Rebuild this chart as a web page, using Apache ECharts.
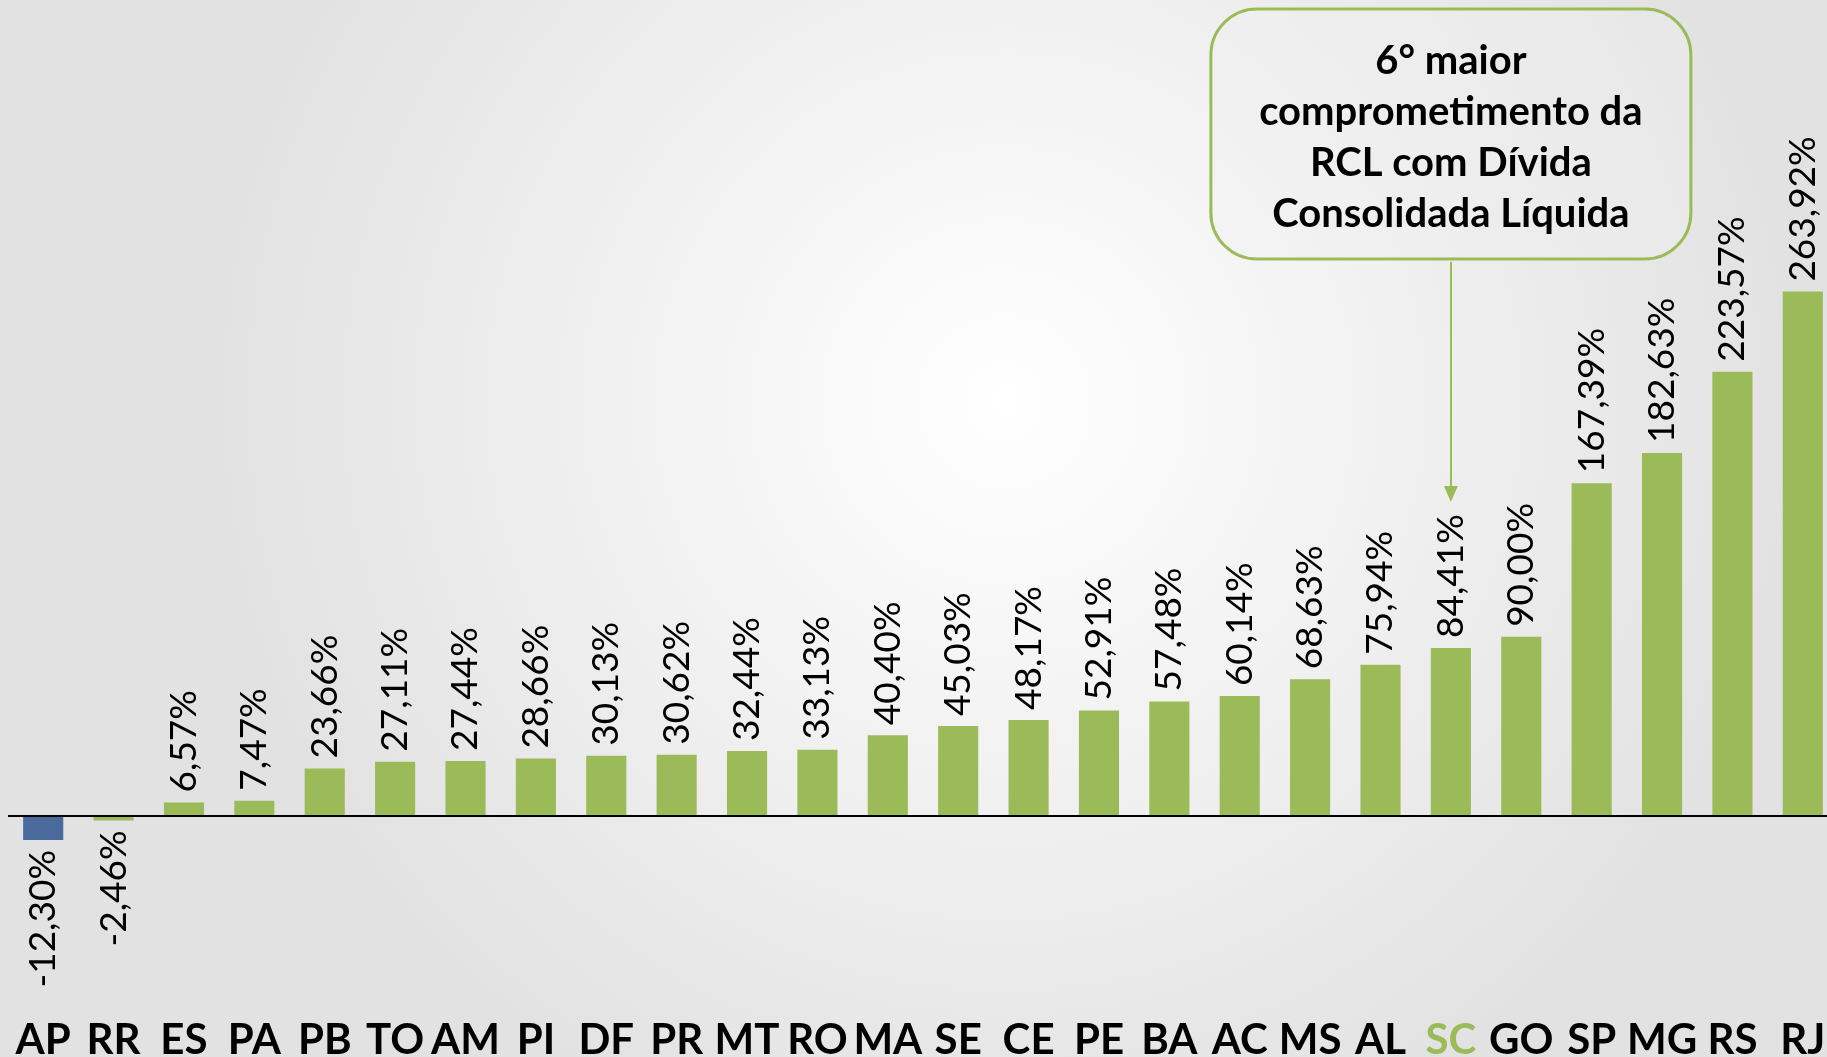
<!DOCTYPE html>
<html>
<head>
<meta charset="utf-8">
<script src="https://cdn.jsdelivr.net/npm/echarts@6/dist/echarts.min.js"></script>
<style>
  html, body { margin: 0; padding: 0; width: 100%; height: 100%; overflow: hidden; }
  #chart { width: 1827px; height: 1057px; }
</style>
</head>
<body>
<div id="chart"></div>
<script>
// estados e comprometimento da RCL (%)
const states = ['AP', 'RR', 'ES', 'PA', 'PB', 'TO', 'AM', 'PI', 'DF', 'PR', 'MT', 'RO', 'MA',
  'SE', 'CE', 'PE', 'BA', 'AC', 'MS', 'AL', 'SC', 'GO', 'SP', 'MG', 'RS', 'RJ'];
const values = [-12.30, -2.46, 6.57, 7.47, 23.66, 27.11, 27.44, 28.66, 30.13, 30.62, 32.44, 33.13, 40.40,
  45.03, 48.17, 52.91, 57.48, 60.14, 68.63, 75.94, 84.41, 90.00, 167.39, 182.63, 223.57, 263.92];
const highlight = 'SC';
const calloutLines = ['6° maior', 'comprometimento da', 'RCL com Dívida', 'Consolidada Líquida'];
const arrowRange = [279, 162];

const GREEN = '#9bbb59';
const BLUE = '#4a6a9c';

const chart = echarts.init(document.getElementById('chart'));

const fmt = v => v.toFixed(2).replace('.', ',') + '%';

const barData = values.map((v, i) => {
  const item = { value: v };
  if (states[i] === 'AP') item.itemStyle = { color: BLUE };
  if (v < 0) {
    item.label = { position: 'bottom', align: 'right' };
  }
  return item;
});

chart.setOption({
  backgroundColor: new echarts.graphic.RadialGradient(0.55, 0.38, 0.75, [
    { offset: 0, color: '#ffffff' },
    { offset: 1, color: '#e2e2e2' }
  ]),
  animation: false,
  grid: { left: 8, top: 220, width: 1830, height: 794, outerBoundsMode: 'none', containLabel: false },
  xAxis: {
    type: 'category',
    data: states,
    axisLine: { show: false },
    axisTick: { show: false },
    axisLabel: {
      margin: 5,
      fontFamily: 'Lato',
      fontWeight: 'bold',
      fontSize: 42,
      color: '#000',
      interval: 0,
      formatter: s => s === highlight ? '{hl|' + s + '}' : s,
      rich: { hl: { color: GREEN, fontFamily: 'Lato', fontWeight: 'bold', fontSize: 42 } }
    }
  },
  yAxis: {
    type: 'value',
    min: -100,
    max: 300,
    show: false,
    splitLine: { show: false }
  },
  series: [{
    type: 'bar',
    data: barData,
    barWidth: '57%',
    itemStyle: { color: GREEN },
    label: {
      show: true,
      position: 'top',
      rotate: 90,
      align: 'left',
      verticalAlign: 'middle',
      distance: 10,
      fontFamily: 'Lato',
      fontSize: 37,
      color: '#000',
      formatter: p => fmt(p.value)
    },
    markLine: {
      silent: true,
      symbol: 'none',
      label: { show: false },
      lineStyle: { color: '#000', width: 2, type: 'solid' },
      data: [{ yAxis: 0 }]
    }
  }, {
    type: 'line',
    data: [],
    markLine: {
      silent: true,
      symbol: ['none', 'triangle'],
      symbolSize: [14, 16],
      label: { show: false },
      lineStyle: { color: GREEN, width: 2, type: 'solid' },
      data: [[{ coord: [highlight, arrowRange[0]] }, { coord: [highlight, arrowRange[1]] }]]
    }
  }]
});

// caixa de destaque centrada no estado em destaque
const cx = chart.convertToPixel({ xAxisIndex: 0 }, highlight);
const boxW = 480, boxH = 250, boxTop = 9;
chart.setOption({
  graphic: [{
    type: 'rect',
    shape: { x: cx - boxW / 2, y: boxTop, width: boxW, height: boxH, r: 46 },
    style: { fill: 'rgba(240,240,240,0.35)', stroke: GREEN, lineWidth: 3 },
    z: 10
  }, {
    type: 'text',
    x: cx,
    y: boxTop + boxH / 2 + 4,
    style: {
      text: calloutLines.join('\n'),
      align: 'center',
      verticalAlign: 'middle',
      fontFamily: 'Lato',
      fontWeight: 'bold',
      fontSize: 40,
      lineHeight: 51,
      fill: '#000'
    },
    z: 11
  }]
});
</script>
</body>
</html>
